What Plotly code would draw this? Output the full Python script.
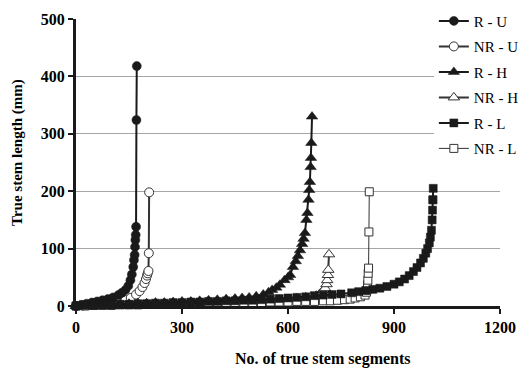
import plotly.graph_objects as go

# ---- data (rank of segment, true stem length in mm) ----
ru_x = [0, 15, 30, 45, 60, 75, 90, 105, 120, 130, 140, 148, 154, 158, 162, 164, 166, 167, 168, 169, 170, 171, 172]
ru_y = [0, 2, 4, 6, 8, 10, 12, 15, 19, 23, 28, 35, 45, 55, 68, 80, 89, 103, 115, 124, 138, 324, 418]

nru_x = [0, 20, 40, 60, 80, 100, 120, 140, 155, 170, 180, 188, 194, 198, 201, 203, 205, 206, 207]
nru_y = [0, 1, 2, 3, 4, 5, 7, 10, 14, 20, 26, 33, 40, 47, 53, 57, 61, 92, 198]

rh_x = [0, 25, 50, 75, 100, 125, 150, 175, 200, 225, 250, 275, 300, 325, 350, 375, 400, 425, 450, 470, 490,
        510, 530, 545, 555, 567, 577, 590, 600, 606, 614, 622, 628, 634, 640, 644, 648, 652, 655, 658, 660,
        662, 664, 665, 666, 668]
rh_y = [0, 1, 2, 2, 3, 3, 4, 5, 5, 6, 6, 7, 8, 8, 9, 10, 11, 12, 13, 14, 15,
        17, 20, 24, 28, 32, 37, 45, 50, 54, 68, 78, 87, 97, 108, 117, 127, 150, 162, 185, 202,
        216, 242, 258, 284, 330]

nrh_x = [0, 25, 50, 75, 100, 125, 150, 175, 200, 225, 250, 275, 300, 325, 350, 375, 400, 425, 450, 475, 500,
         525, 550, 575, 600, 625, 650, 665, 680, 690, 696, 701, 705, 709, 711, 713, 714, 716]
nrh_y = [0, 1, 1, 2, 2, 2, 3, 3, 4, 4, 5, 5, 6, 6, 6, 7, 7, 8, 8, 9, 9,
         10, 10, 11, 11, 13, 15, 16, 18, 21, 24, 28, 31, 38, 45, 54, 63, 90]

rl_x = [0, 25, 50, 75, 100, 125, 150, 175, 200, 225, 250, 275, 300, 325, 350, 375, 400, 425, 450, 475, 500,
        525, 550, 575, 600, 625, 650, 675, 700, 725, 750, 780, 800, 820, 840, 860, 880, 900, 915, 930, 943,
        955, 965, 975, 983, 990, 995, 1000, 1003, 1006, 1008, 1009, 1010, 1010, 1011]
rl_y = [0, 1, 1, 2, 2, 3, 3, 4, 4, 5, 5, 6, 6, 7, 7, 8, 8, 9, 9, 10, 10,
        11, 12, 13, 14, 15, 16, 18, 19, 20, 21, 23, 25, 27, 29, 31, 34, 38, 42, 47, 53,
        60, 67, 75, 83, 92, 100, 110, 120, 132, 150, 167, 185, 185, 205]

nrl_x = [0, 25, 50, 75, 100, 125, 150, 175, 200, 225, 250, 275, 300, 325, 350, 375, 400, 425, 450, 475, 500,
         525, 550, 575, 600, 625, 650, 675, 700, 720, 740, 760, 776, 790, 805, 818, 822, 824, 825, 826, 827,
         828, 829, 830]
nrl_y = [0, 0, 1, 1, 1, 2, 2, 2, 3, 3, 3, 4, 4, 4, 5, 5, 5, 5, 6, 6, 6,
         6, 7, 7, 7, 8, 8, 8, 9, 9, 10, 11, 12, 14, 16, 19, 24, 28, 37, 45, 57,
         66, 129, 199]

names = ["R - U", "NR - U", "R - H", "NR - H", "R - L", "NR - L"]
xs = [ru_x, nru_x, rh_x, nrh_x, rl_x, nrl_x]
ys = [ru_y, nru_y, rh_y, nrh_y, rl_y, nrl_y]

ink = "#1a1a1a"
styles = [
    dict(symbol="circle", size=9, color=ink, lc=ink, lw=2, mlw=0.5),
    dict(symbol="circle", size=9, color="white", lc="#333333", lw=2, mlw=1),
    dict(symbol="triangle-up", size=10, color=ink, lc=ink, lw=2, mlw=0.5),
    dict(symbol="triangle-up", size=10, color="white", lc="#333333", lw=2, mlw=1),
    dict(symbol="square", size=8, color=ink, lc=ink, lw=2, mlw=0.5),
    dict(symbol="square", size=8, color="white", lc="#333333", lw=1, mlw=1),
]

# draw open-marker series first so the dense filled markers form the solid band
draw_order = [1, 3, 5, 0, 2, 4]

fig = go.Figure()
for i in draw_order:
    n, x, y, s = names[i], xs[i], ys[i], styles[i]
    fig.add_trace(go.Scatter(
        x=x, y=y, name=n, mode="lines+markers", cliponaxis=False,
        legendgroup=f"g{i}", legendrank=i + 1,
        line=dict(color=s["lc"], width=s["lw"]),
        marker=dict(symbol=s["symbol"], size=s["size"], color=s["color"],
                    line=dict(color=s["lc"], width=s["mlw"])),
    ))

font_family = "Liberation Serif"
pw, ph = 519 - 76 - 19, 369 - 19 - 63
fig.update_layout(
    width=519, height=369,
    margin=dict(l=76, r=19, t=19, b=63, autoexpand=False),
    plot_bgcolor="white", paper_bgcolor="white",
    font=dict(family=font_family, color="black"),
    showlegend=True,
    legend=dict(x=0.844, y=1.05, xanchor="left", yanchor="top", bgcolor="white",
                font=dict(size=15, family=font_family), tracegroupgap=3,
                borderwidth=0, traceorder="grouped"),
    xaxis=dict(range=[0, 1200], tickvals=[0, 300, 600, 900, 1200], showgrid=False,
               showline=True, linecolor=ink, linewidth=3, ticks="outside", ticklen=5,
               tickwidth=2, tickcolor=ink, zeroline=False,
               tickfont=dict(size=16, family=font_family, weight="bold")),
    yaxis=dict(range=[0, 500], tickvals=[0, 100, 200, 300, 400, 500], showgrid=True,
               gridcolor="#a6a6a6", gridwidth=1,
               showline=True, linecolor=ink, linewidth=3, ticks="outside", ticklen=5,
               tickwidth=2, tickcolor=ink, zeroline=False,
               tickfont=dict(size=16, family=font_family, weight="bold")),
)
fig.add_annotation(text="<b>No. of true stem segments</b>", xref="paper", yref="paper",
                   x=(323 - 76) / pw, y=(306 - 359) / ph, showarrow=False,
                   font=dict(size=16, family=font_family), xanchor="center", yanchor="middle")
fig.add_annotation(text="<b>True stem length (mm)</b>", xref="paper", yref="paper",
                   x=(17 - 76) / pw, y=(306 - 153) / ph, showarrow=False, textangle=-90,
                   font=dict(size=15, family=font_family), xanchor="center", yanchor="middle")

fig.write_html("out.html")
